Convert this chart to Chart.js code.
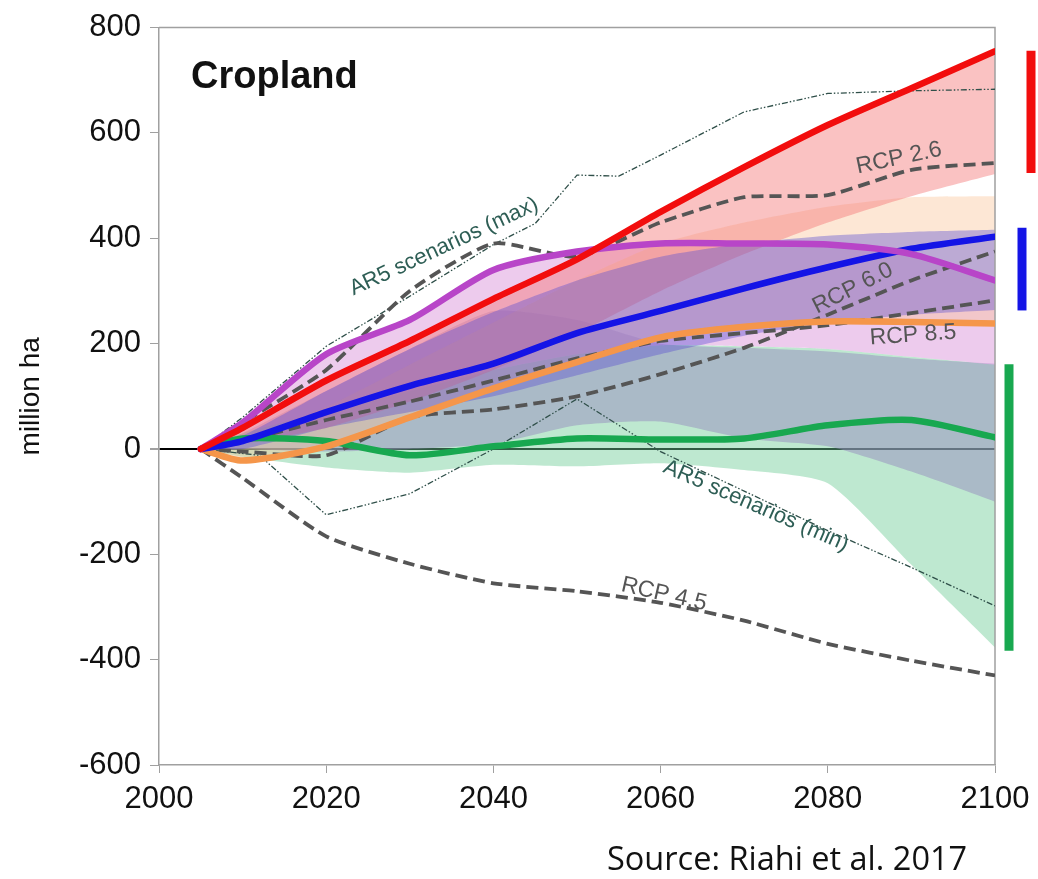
<!DOCTYPE html>
<html>
<head>
<meta charset="utf-8">
<script src="https://cdn.jsdelivr.net/npm/chart.js@4.4.1/dist/chart.umd.min.js"></script>
<style>
  html, body { margin: 0; padding: 0; background: #fff; }
  #wrap { position: relative; width: 1038px; height: 879px; }
  #source {
    position: absolute; left: 607px; top: 835px;
    font-family: "Open Sans", "Noto Sans", sans-serif; font-size: 32.5px; color: #111;
    white-space: nowrap;
  }
</style>
</head>
<body>
<div id="wrap">
  <canvas id="c" width="1038" height="879"></canvas>
  <div id="source">Source: Riahi et al. 2017</div>
</div>
<script>
// Years shared by the scenario lines and ranges
const years = [2005, 2010, 2020, 2030, 2040, 2050, 2060, 2070, 2080, 2090, 2100];

// Marker scenario lines (million ha change relative to 2005)
const redScenario    = [0, 40, 130, 205, 285, 360, 450, 535, 615, 685, 755];
const purpleScenario = [0, 50, 180, 245, 340, 375, 390, 390, 388, 370, 320];
const blueScenario   = [0, 15, 70, 120, 162, 220, 262, 305, 345, 380, 403];
const orangeScenario = [0, -22, 5, 60, 115, 165, 212, 232, 242, 241, 238];
const greenScenario  = [0, 20, 15, -12, 5, 20, 18, 20, 45, 55, 22];

// RCP reference pathways
const rcp26 = [0, 50, 150, 300, 390, 365, 430, 478, 482, 530, 543];
const rcp45 = [0, -55, -166, -218, -255, -270, -292, -326, -370, -402, -430];
const rcp60 = [0, -5, -12, 60, 75, 100, 142, 192, 255, 320, 375];
const rcp85 = [0, 15, 55, 90, 130, 172, 205, 220, 235, 258, 282];

// AR5 scenario envelope
const ar5MaxYears = [2005, 2010, 2020, 2030, 2040, 2045, 2050, 2055, 2060, 2070, 2080, 2090, 2100];
const ar5Max      = [0, 60, 195, 290, 388, 428, 520, 518, 558, 640, 675, 680, 683];
const ar5MinYears = [2005, 2012, 2020, 2030, 2040, 2050, 2060, 2070, 2080, 2090, 2100];
const ar5Min      = [0, -12, -125, -85, 0, 95, -5, -80, -155, -225, -298];

// Model ranges around the marker scenarios
const greenUpper = [0, 30, 70, 110, 150, 180, 197, 195, 190, 175, 160];
const greenLower = [0, -15, -35, -45, -30, -33, -27, -40, -65, -220, -377];
const slateUpper = [0, 30, 110, 190, 262, 245, 200, 192, 185, 172, 162];
const slateLower = [0, 0, -5, 0, 10, 45, 52, 20, 5, -43, -100];
const peachUpper = [0, 20, 80, 160, 240, 320, 390, 430, 460, 478, 480];
const redLower   = [0, 10, 40, 90, 150, 220, 300, 370, 430, 480, 522];
const blueUpper  = [0, 25, 110, 190, 260, 320, 365, 390, 405, 412, 416];
const blueLower  = [0, 0, 40, 70, 100, 140, 180, 215, 240, 255, 264];

// 2100 ranges shown as bars beside the plot
const redRange2100   = [524, 756];
const blueRange2100  = [263, 420];
const greenRange2100 = [-383, 161];

// Axis ticks
const xTicks = [2000, 2020, 2040, 2060, 2080, 2100];
const yTicks = [-600, -400, -200, 0, 200, 400, 600, 800];

const pts = (xs, ys) => xs.map((x, i) => ({ x: x, y: ys[i] }));

const hidden = { borderWidth: 0, pointRadius: 0, fill: false, tension: 0.2 };
const thick = (data, color) => ({ data: pts(years, data), borderColor: color, borderWidth: 6.5,
  pointRadius: 0, fill: false, tension: 0.25, borderJoinStyle: 'round', borderCapStyle: 'round', order: 0 });
const dashed = (data) => ({ data: pts(years, data), borderColor: '#555555', borderWidth: 3.8,
  borderDash: [12, 6], pointRadius: 0, fill: false, tension: 0.2, order: 1 });
const dotDash = (xs, data) => ({ data: pts(xs, data), borderColor: '#2f4f49', borderWidth: 1.3,
  borderDash: [6, 2, 1.5, 2, 1.5, 2], pointRadius: 0, fill: false, tension: 0, order: 2 });

// Dataset indices are referenced by the fills below
const datasets = [
  /* 0 */ thick(redScenario, '#f20d0d'),
  /* 1 */ thick(purpleScenario, '#b845c8'),
  /* 2 */ thick(blueScenario, '#1414e6'),
  /* 3 */ thick(orangeScenario, '#f5964a'),
  /* 4 */ thick(greenScenario, '#18a850'),
  /* 5 */ dashed(rcp26),
  /* 6 */ dashed(rcp45),
  /* 7 */ dashed(rcp60),
  /* 8 */ dashed(rcp85),
  /* 9 */ dotDash(ar5MaxYears, ar5Max),
  /* 10 */ dotDash(ar5MinYears, ar5Min),
  /* 11 */ Object.assign({}, hidden, { data: pts(years, greenUpper), order: 100 }),
  /* 12 */ Object.assign({}, hidden, { data: pts(years, greenLower), fill: { target: 11 },
            backgroundColor: 'rgba(110,205,150,0.45)', order: 60 }),
  /* 13 */ Object.assign({}, hidden, { data: pts(years, slateUpper), order: 100 }),
  /* 14 */ Object.assign({}, hidden, { data: pts(years, slateLower), fill: { target: 13 },
            backgroundColor: 'rgba(150,140,190,0.5)', order: 50 }),
  /* 15 */ Object.assign({}, hidden, { data: pts(years, purpleScenario), fill: { target: 11 },
            backgroundColor: 'rgba(215,140,215,0.45)', order: 40 }),
  /* 16 */ Object.assign({}, hidden, { data: pts(years, peachUpper), fill: { target: 3 },
            backgroundColor: 'rgba(250,195,150,0.4)', order: 30 }),
  /* 17 */ Object.assign({}, hidden, { data: pts(years, redLower), fill: { target: 0 },
            backgroundColor: 'rgba(245,120,120,0.45)', order: 20 }),
  /* 18 */ Object.assign({}, hidden, { data: pts(years, blueLower), order: 100 }),
  /* 19 */ Object.assign({}, hidden, { data: pts(years, blueUpper), fill: { target: 18 },
            backgroundColor: 'rgba(90,80,210,0.4)', order: 10 })
];

// Text placed along the curves, anchored in data coordinates
const curveLabels = [
  { text: 'RCP 2.6', x: 2088.5, y: 552, angle: -12, color: '#555555' },
  { text: 'RCP 6.0', x: 2083.0, y: 305, angle: -27, color: '#555555' },
  { text: 'RCP 8.5', x: 2090.2, y: 216, angle: -4, color: '#555555' },
  { text: 'RCP 4.5', x: 2060.4, y: -276, angle: 13, color: '#555555' },
  { text: 'AR5 scenarios (max)', x: 2034.1, y: 384, angle: -25, color: '#2e5e55' },
  { text: 'AR5 scenarios (min)', x: 2071.4, y: -108, angle: 23.5, color: '#2e5e55' }
];

const framePlugin = {
  id: 'frame',
  beforeDatasetsDraw(chart) {
    const { ctx, chartArea: a } = chart;
    ctx.save();
    ctx.strokeStyle = '#a0a0a0';
    ctx.lineWidth = 1.5;
    ctx.beginPath();
    ctx.moveTo(a.left, a.top); ctx.lineTo(a.right, a.top); ctx.lineTo(a.right, a.bottom);
    ctx.stroke();
    ctx.restore();
  }
};

const annotatePlugin = {
  id: 'annotate',
  afterDatasetsDraw(chart) {
    const { ctx, chartArea: a, scales } = chart;
    const xs = scales.x, ys = scales.y;
    ctx.save();
    // panel title
    ctx.fillStyle = '#111';
    ctx.font = 'bold 38px "Liberation Sans", Arial, sans-serif';
    ctx.textBaseline = 'alphabetic';
    ctx.textAlign = 'left';
    ctx.fillText('Cropland', a.left + 32, a.top + 60);
    // curve labels
    ctx.textAlign = 'center';
    ctx.textBaseline = 'middle';
    curveLabels.forEach(l => {
      ctx.save();
      ctx.font = (l.text.startsWith('AR5') ? '22px' : '23px') + ' "Liberation Sans", Arial, sans-serif';
      ctx.translate(xs.getPixelForValue(l.x), ys.getPixelForValue(l.y));
      ctx.rotate(l.angle * Math.PI / 180);
      ctx.fillStyle = l.color;
      ctx.fillText(l.text, 0, 0);
      ctx.restore();
    });
    // 2100 range bars beside the plot
    const bars = [
      { r: redRange2100, color: '#f20d0d', dx: 36 },
      { r: blueRange2100, color: '#1414e6', dx: 27 },
      { r: greenRange2100, color: '#18a850', dx: 14 }
    ];
    bars.forEach(b => {
      ctx.strokeStyle = b.color;
      ctx.lineWidth = 9;
      ctx.lineCap = 'butt';
      ctx.beginPath();
      ctx.moveTo(a.right + b.dx, ys.getPixelForValue(b.r[0]));
      ctx.lineTo(a.right + b.dx, ys.getPixelForValue(b.r[1]));
      ctx.stroke();
    });
    ctx.restore();
  }
};

new Chart(document.getElementById('c'), {
  type: 'line',
  data: { datasets: datasets },
  options: {
    responsive: false,
    animation: false,
    layout: { padding: { left: 0, top: 24, right: 43, bottom: 54 } },
    plugins: {
      legend: { display: false },
      tooltip: { enabled: false },
      filler: { drawTime: 'beforeDatasetsDraw', propagate: false }
    },
    scales: {
      x: {
        type: 'linear', min: 2000, max: 2100,
        afterBuildTicks: s => { s.ticks = xTicks.map(v => ({ value: v })); },
        afterFit: s => { s.height = 60; },
        grid: { display: true, drawOnChartArea: false, tickLength: 8, tickColor: '#a0a0a0' },
        border: { color: '#a0a0a0', width: 1.5 },
        ticks: { color: '#111', padding: 8, font: { family: '"Liberation Sans", Arial, sans-serif', size: 31 },
          callback: v => String(v), maxRotation: 0 }
      },
      y: {
        type: 'linear', min: -600, max: 800,
        afterBuildTicks: s => { s.ticks = yTicks.map(v => ({ value: v })); },
        afterFit: s => { s.width = 159; },
        grid: {
          color: c => (c.tick && c.tick.value === 0) ? '#000' : 'rgba(0,0,0,0)',
          lineWidth: c => (c.tick && c.tick.value === 0) ? 2 : 1,
          tickLength: 9, tickColor: '#a0a0a0'
        },
        border: { color: '#a0a0a0', width: 1.5 },
        title: { display: true, text: 'million ha', color: '#111', padding: { top: 14, bottom: 0 },
          font: { family: '"Liberation Sans", Arial, sans-serif', size: 28 } },
        ticks: { color: '#111', padding: 9, font: { family: '"Liberation Sans", Arial, sans-serif', size: 31 } }
      }
    }
  },
  plugins: [framePlugin, annotatePlugin]
});
</script>
</body>
</html>
